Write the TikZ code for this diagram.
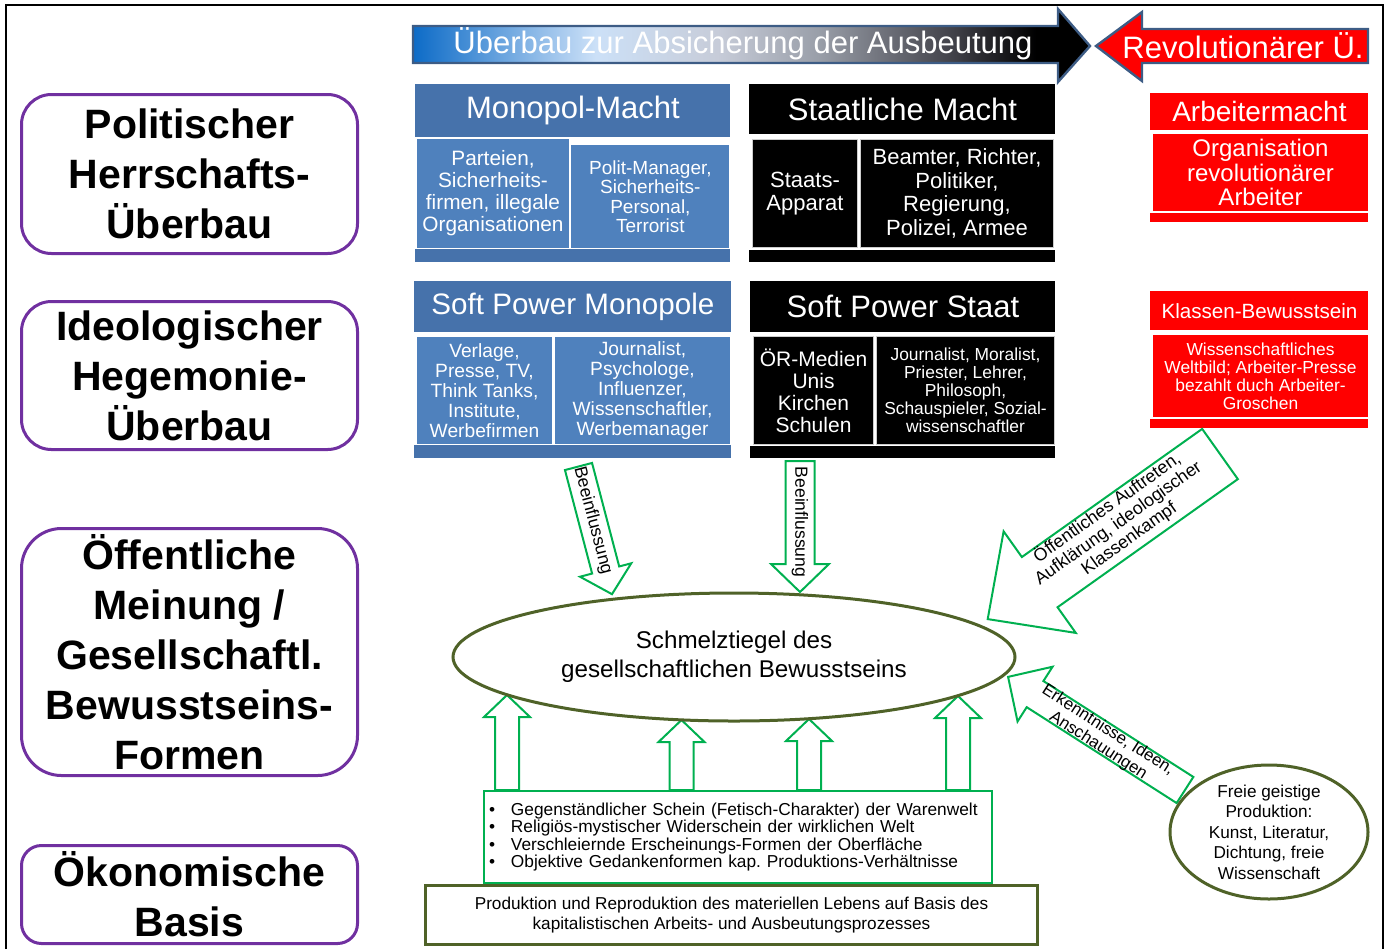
\documentclass[tikz,border=0pt]{standalone}
\usepackage{fontspec}
\setmainfont{Liberation Sans}
\usetikzlibrary{shapes}
\definecolor{lila}{HTML}{7030A0}
\definecolor{monoblau}{HTML}{4672AB}
\definecolor{subblau}{HTML}{4F81BD}
\definecolor{gruen}{HTML}{00B050}
\definecolor{oliv}{HTML}{4F6228}
\definecolor{rand}{HTML}{3D5C85}
\definecolor{rot}{HTML}{FF0000}
\pgfdeclarehorizontalshading{banner}{100bp}{rgb(0bp)=(0.05,0.42,0.78); rgb(25bp)=(0.05,0.42,0.78); rgb(38.5bp)=(0.80,0.88,0.97); rgb(47.5bp)=(0.78,0.80,0.85); rgb(55bp)=(0.60,0.62,0.66); rgb(65bp)=(0.25,0.25,0.28); rgb(71bp)=(0,0,0); rgb(100bp)=(0,0,0)}
\newcommand{\fs}[2]{\fontsize{#1}{#2}\selectfont}
\newcommand{\punkt}{\makebox[11pt][l]{•}}
\newcommand{\blockpfeil}[6]{\draw[pfeil,shift={#1},rotate=#2] (0,#4) -- ({#3-#6},#4) -- ({#3-#6},#5) -- (#3,0) -- ({#3-#6},-#5) -- ({#3-#6},-#4) -- (0,-#4) -- cycle;}
\frenchspacing

\begin{document}
\begin{tikzpicture}[x=0.5pt, y=-0.5pt,
    ebene/.style={draw=lila, line width=1.5pt, rounded corners=15pt, align=center, inner sep=0pt, font=\bfseries\fs{20.5}{25}, minimum width=168pt, anchor=north west},
    kopf/.style={text=white, align=center, inner sep=0pt, anchor=north west},
    feld/.style={draw=white, line width=0.5pt, text=white, align=center, inner sep=0pt, anchor=north west},
    pfeil/.style={draw=gruen, fill=white, line width=1pt},
    pfeiltext/.style={font=\fs{8.8}{9.5}, align=center, inner sep=0pt}]
        \useasboundingbox (0,0) rectangle (1392,949);
        \draw[line width=1pt] (6,949) -- (6,5) -- (1383,5) -- (1383,949);

        \node[ebene, minimum height=79.5pt] (polit) at (20,93) {Politischer\\Herrschafts-\\Überbau};
        \node[ebene, minimum height=74pt] (ideo) at (20,300) {Ideologischer\\Hegemonie-\\Überbau};
        \node[ebene, minimum height=123.5pt, rounded corners=20pt] (meinung) at (20,527) {Öffentliche\\Meinung /\\Gesellschaftl.\\Bewusstseins-\\Formen};
        \node[ebene, minimum height=49pt, rounded corners=10pt] (basis) at (20,844) {Ökonomische\\Basis};

        \draw[draw=rand, line width=1.2pt, shade, shading=banner] (413,26) -- (1058,26) -- (1058,9) -- (1090,46) -- (1058,82) -- (1058,63) -- (413,63) -- cycle;
        \draw[draw=rand, line width=1.2pt, fill=rot] (1368,29) -- (1142,29) -- (1142,12) -- (1096,46) -- (1142,81) -- (1142,63) -- (1368,63) -- cycle;
        \node[text=white, font=\fs{15.5}{18}] (ueberbau) at (743,44) {Überbau zur Absicherung der Ausbeutung};
        \node[text=white, font=\fs{15.5}{18}] (revol) at (1243,46) {Revolutionärer Ü.};

        \node[kopf, fill=monoblau, minimum width=157.5pt, minimum height=26.5pt, font=\fs{15.5}{18}] (monomacht) at (415,84) {Monopol-Macht};
        \node[feld, fill=subblau, minimum width=76.5pt, minimum height=55pt, font=\fs{10.4}{11}] (monoa) at (416,138) {Parteien,\\Sicherheits-\\firmen, illegale\\Organisationen};
        \node[kopf, fill=subblau, minimum width=79pt, minimum height=51.5pt, font=\fs{9.5}{9.75}] (monob) at (571,145) {Polit-Manager,\\Sicherheits-\\Personal,\\Terrorist};
        \node[kopf, fill=monoblau, minimum width=157.5pt, minimum height=6.5pt] (monoleiste) at (415,249) {};

        \node[kopf, fill=black, minimum width=153pt, minimum height=25pt, font=\fs{15.5}{18}] (staatmacht) at (749,84) {Staatliche Macht};
        \node[feld, fill=black, draw=gray!40, minimum width=52.5pt, minimum height=54pt, font=\fs{11}{11.75}] (staata) at (752,139) {Staats-\\Apparat};
        \node[feld, fill=black, draw=gray!40, minimum width=96.5pt, minimum height=54pt, font=\fs{11}{11.75}] (staatb) at (860,139) {Beamter, Richter,\\Politiker,\\Regierung,\\Polizei, Armee};
        \node[kopf, fill=black, minimum width=153pt, minimum height=6pt] (staatleiste) at (749,250) {};

        \node[kopf, fill=rot, minimum width=109pt, minimum height=18.5pt, font=\fs{14}{16}] (arbmacht) at (1150,93) {Arbeitermacht};
        \node[feld, fill=rot, minimum width=108pt, minimum height=39pt, font=\fs{12}{12.25}] (arba) at (1152,133) {Organisation\\revolutionärer\\Arbeiter};
        \node[kopf, fill=rot, minimum width=109pt, minimum height=4.5pt] (arbleiste) at (1150,213) {};

        \node[kopf, fill=monoblau, minimum width=158.5pt, minimum height=25.5pt, font=\fs{14.8}{17}] (softmono) at (414,281) {Soft Power Monopole};
        \node[feld, fill=subblau, minimum width=68pt, minimum height=54pt, font=\fs{9.6}{10}] (softmonoa) at (416,336) {Verlage,\\Presse, TV,\\Think Tanks,\\Institute,\\Werbefirmen};
        \node[feld, fill=subblau, minimum width=88pt, minimum height=54pt, font=\fs{9.6}{10}] (softmonob) at (554,336) {Journalist,\\Psychologe,\\Influenzer,\\Wissenschaftler,\\Werbemanager};
        \node[kopf, fill=monoblau, minimum width=158.5pt, minimum height=6.5pt] (softmonoleiste) at (414,445) {};

        \node[kopf, fill=black, minimum width=152.5pt, minimum height=25.5pt, font=\fs{15.5}{18}] (softstaat) at (750,281) {Soft Power Staat};
        \node[feld, fill=black, draw=gray!40, minimum width=60pt, minimum height=54pt, font=\fs{10.5}{11}] (softstaata) at (753,336) {ÖR-Medien\\Unis\\Kirchen\\Schulen};
        \node[feld, fill=black, draw=gray!40, minimum width=89pt, minimum height=54pt, font=\fs{8.7}{9}] (softstaatb) at (876,336) {Journalist, Moralist,\\Priester, Lehrer,\\Philosoph,\\Schauspieler, Sozial-\\wissenschaftler};
        \node[kopf, fill=black, minimum width=152.5pt, minimum height=6pt] (softstaatleiste) at (750,446) {};

        \node[kopf, fill=rot, minimum width=109pt, minimum height=19.5pt, font=\fs{10.3}{12}] (klasse) at (1150,291) {Klassen-Bewusstsein};
        \node[feld, fill=rot, minimum width=108pt, minimum height=41.5pt, font=\fs{8.7}{9}] (klassea) at (1152,334) {Wissenschaftliches\\Weltbild; Arbeiter-Presse\\bezahlt duch Arbeiter-\\Groschen};
        \node[kopf, fill=rot, minimum width=109pt, minimum height=4.5pt] (klasseleiste) at (1150,419) {};

        \node[draw=oliv, line width=1.5pt, anchor=north west, minimum width=306pt, minimum height=29.5pt, inner sep=0pt, align=center, font=\fs{8.6}{10}] (prozess) at (424,884) {Produktion und Reproduktion des materiellen Lebens auf Basis des\\kapitalistischen Arbeits- und Ausbeutungsprozesses};
        \node[draw=gruen, line width=1pt, fill=white, anchor=north west, text width=249pt, inner xsep=2.5pt, inner ysep=0pt, minimum height=46pt, align=left, font=\fs{8.65}{8.6}] (schein) at (483,790) {\punkt Gegenständlicher Schein (Fetisch-Charakter) der Warenwelt\\\punkt Religiös-mystischer Widerschein der wirklichen Welt\\\punkt Verschleiernde Erscheinungs-Formen der Oberfläche\\\punkt Objektive Gedankenformen kap. Produktions-Verhältnisse};

        \blockpfeil{(507,0 |- schein.north)}{90}{95}{12}{23}{22}
        \blockpfeil{(681.5,0 |- schein.north)}{90}{70}{12}{23}{22}
        \blockpfeil{(809,0 |- schein.north)}{90}{71}{12}{23}{22}
        \blockpfeil{(958,0 |- schein.north)}{90}{94}{12}{23}{22}
        \blockpfeil{(578.5,466.5)}{-75.3}{132}{14}{26.5}{25}
        \blockpfeil{(800,461)}{-90}{131}{14.5}{29}{28}
        \blockpfeil{(1220,454)}{215.4}{285}{30.8}{62.3}{63.8}
        \blockpfeil{(1185,790)}{147.4}{210}{15.5}{32.5}{32}
        \node[pfeiltext, rotate=-75.3] (beeina) at (592.7,520.6) {Beeinflussung};
        \node[pfeiltext, rotate=-90] (beeinb) at (800,522) {Beeinflussung};
        \node[pfeiltext, rotate=35.4, font=\fs{8.9}{9.5}] (kampf) at (1118,523) {Öffentliches Auftreten,\\Aufklärung, ideologischer\\Klassenkampf};
        \node[pfeiltext, rotate=-32.6, font=\fs{8.4}{9}] (ideen) at (1103,738) {Erkenntnisse, Ideen,\\Anschauungen};

        \node[draw=oliv, line width=1.5pt, ellipse, fill=white, minimum width=281pt, minimum height=64pt, inner sep=0pt, align=center, font=\fs{12.1}{14.5}] (tiegel) at (734,657) {Schmelztiegel des\\gesellschaftlichen Bewusstseins};
        \node[draw=oliv, line width=1.5pt, ellipse, fill=white, minimum width=99pt, minimum height=67pt, inner sep=0pt, align=center, font=\fs{8.6}{10.25}] (freie) at (1269,832) {Freie geistige\\Produktion:\\Kunst, Literatur,\\Dichtung, freie\\Wissenschaft};
\end{tikzpicture}
\end{document}
